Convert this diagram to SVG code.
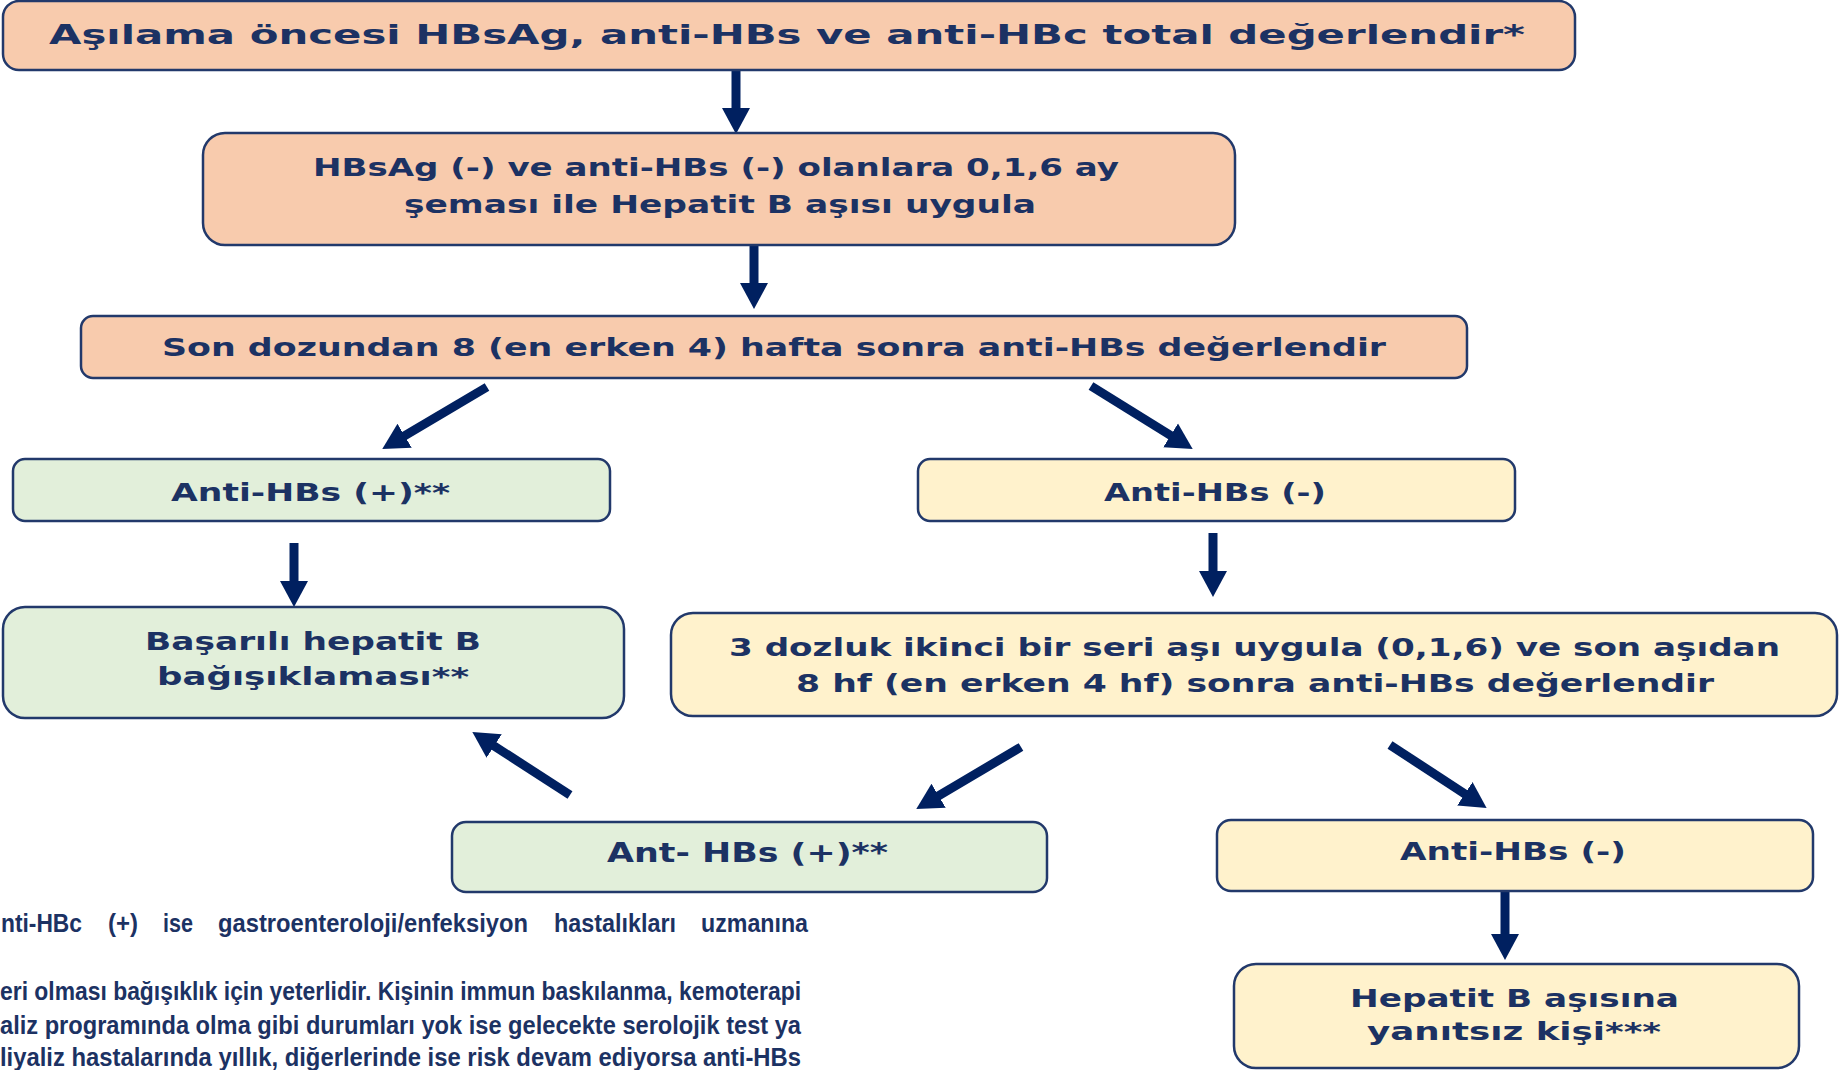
<svg xmlns="http://www.w3.org/2000/svg" width="1839" height="1070" viewBox="0 0 1839 1070">
<defs>
<style>
.box{stroke:#22396b;stroke-width:2.5}
.peach{fill:#f8cbad}
.green{fill:#e2efda}
.yellow{fill:#fff2cc}
.t{font-family:"DejaVu Sans","Verdana",sans-serif;font-weight:bold;fill:#1c3263;text-anchor:middle}
.fn{font-family:"Liberation Sans","Arial",sans-serif;font-weight:bold;fill:#1c3263;font-size:25px}
.arr{stroke:#002060;stroke-width:9;fill:none;marker-end:url(#head)}
</style>
<marker id="head" markerUnits="userSpaceOnUse" markerWidth="27" markerHeight="30" refX="12" refY="14" orient="auto" viewBox="0 0 27 28">
<path d="M0,0 L26,14 L0,28 z" fill="#002060"/>
</marker>
</defs>
<rect width="1839" height="1070" fill="#ffffff"/>

<g id="connectors">
<line class="arr" x1="736" y1="70" x2="736" y2="120"/>
<line class="arr" x1="754" y1="245" x2="754" y2="295"/>
<line class="arr" x1="487" y1="387" x2="394.3" y2="441.9"/>
<line class="arr" x1="1091" y1="386" x2="1180.8" y2="441.7"/>
<line class="arr" x1="294" y1="543" x2="294" y2="593"/>
<line class="arr" x1="1213" y1="533" x2="1213" y2="583"/>
<line class="arr" x1="1021" y1="747" x2="928.3" y2="801.9"/>
<line class="arr" x1="1390" y1="745" x2="1474.9" y2="800.4"/>
<line class="arr" x1="570" y1="795" x2="484.1" y2="739.5"/>
<line class="arr" x1="1505" y1="892" x2="1505" y2="946"/>
</g>

<g id="n-top">
<rect class="box peach" x="3" y="1" width="1572" height="69" rx="16"/>
<text class="t" x="787" y="44" font-size="27" textLength="1476" lengthAdjust="spacingAndGlyphs">Aşılama öncesi HBsAg, anti-HBs ve anti-HBc total değerlendir*</text>
</g>

<g id="n-vaccinate">
<rect class="box peach" x="203" y="133" width="1032" height="112" rx="22"/>
<text class="t" x="716" y="176" font-size="24" textLength="806" lengthAdjust="spacingAndGlyphs">HBsAg (-) ve anti-HBs (-) olanlara 0,1,6 ay</text>
<text class="t" x="720" y="213" font-size="24" textLength="632" lengthAdjust="spacingAndGlyphs">şeması ile Hepatit B aşısı uygula</text>
</g>

<g id="n-check1">
<rect class="box peach" x="81" y="316" width="1386" height="62" rx="12"/>
<text class="t" x="774" y="356" font-size="24" textLength="1224" lengthAdjust="spacingAndGlyphs">Son dozundan 8 (en erken 4) hafta sonra anti-HBs değerlendir</text>
</g>

<g id="n-pos1">
<rect class="box green" x="13" y="459" width="597" height="62" rx="12"/>
<text class="t" x="310.5" y="501" font-size="24" textLength="279" lengthAdjust="spacingAndGlyphs">Anti-HBs (+)**</text>
</g>

<g id="n-success">
<rect class="box green" x="3" y="607" width="621" height="111" rx="22"/>
<text class="t" x="313" y="650" font-size="24" textLength="336" lengthAdjust="spacingAndGlyphs">Başarılı hepatit B</text>
<text class="t" x="313" y="685" font-size="24" textLength="312" lengthAdjust="spacingAndGlyphs">bağışıklaması**</text>
</g>

<g id="n-neg1">
<rect class="box yellow" x="918" y="459" width="597" height="62" rx="12"/>
<text class="t" x="1215" y="501" font-size="24" textLength="222" lengthAdjust="spacingAndGlyphs">Anti-HBs (-)</text>
</g>

<g id="n-second">
<rect class="box yellow" x="671" y="613" width="1166" height="103" rx="22"/>
<text class="t" x="1254.5" y="656" font-size="24" textLength="1051" lengthAdjust="spacingAndGlyphs">3 dozluk ikinci bir seri aşı uygula (0,1,6) ve son aşıdan</text>
<text class="t" x="1255" y="692" font-size="24" textLength="918" lengthAdjust="spacingAndGlyphs">8 hf (en erken 4 hf) sonra anti-HBs değerlendir</text>
</g>

<g id="n-pos2">
<rect class="box green" x="452" y="822" width="595" height="70" rx="14"/>
<text class="t" x="747.5" y="862" font-size="26" textLength="281" lengthAdjust="spacingAndGlyphs">Ant- HBs (+)**</text>
</g>

<g id="n-neg2">
<rect class="box yellow" x="1217" y="820" width="596" height="71" rx="14"/>
<text class="t" x="1513" y="860" font-size="24" textLength="226" lengthAdjust="spacingAndGlyphs">Anti-HBs (-)</text>
</g>

<g id="n-nonresponder">
<rect class="box yellow" x="1234" y="964" width="565" height="104" rx="22"/>
<text class="t" x="1514.5" y="1007" font-size="24" textLength="329" lengthAdjust="spacingAndGlyphs">Hepatit B aşısına</text>
<text class="t" x="1514" y="1040" font-size="24" textLength="294" lengthAdjust="spacingAndGlyphs">yanıtsız kişi***</text>
</g>

<g id="footnotes">
<text class="fn" y="932"><tspan x="1" textLength="81" lengthAdjust="spacingAndGlyphs">nti-HBc</tspan><tspan x="108" textLength="30" lengthAdjust="spacingAndGlyphs">(+)</tspan><tspan x="163" textLength="30" lengthAdjust="spacingAndGlyphs">ise</tspan><tspan x="218" textLength="310" lengthAdjust="spacingAndGlyphs">gastroenteroloji/enfeksiyon</tspan><tspan x="554" textLength="122" lengthAdjust="spacingAndGlyphs">hastalıkları</tspan><tspan x="701" textLength="107" lengthAdjust="spacingAndGlyphs">uzmanına</tspan></text>
<text class="fn" x="0" y="1000" textLength="801" lengthAdjust="spacingAndGlyphs">eri olması bağışıklık için yeterlidir. Kişinin immun baskılanma, kemoterapi</text>
<text class="fn" x="0" y="1034" textLength="801" lengthAdjust="spacingAndGlyphs">aliz programında olma gibi durumları yok ise gelecekte serolojik test ya</text>
<text class="fn" x="0" y="1066" textLength="801" lengthAdjust="spacingAndGlyphs">liyaliz hastalarında yıllık, diğerlerinde ise risk devam ediyorsa anti-HBs</text>
</g>
</svg>
